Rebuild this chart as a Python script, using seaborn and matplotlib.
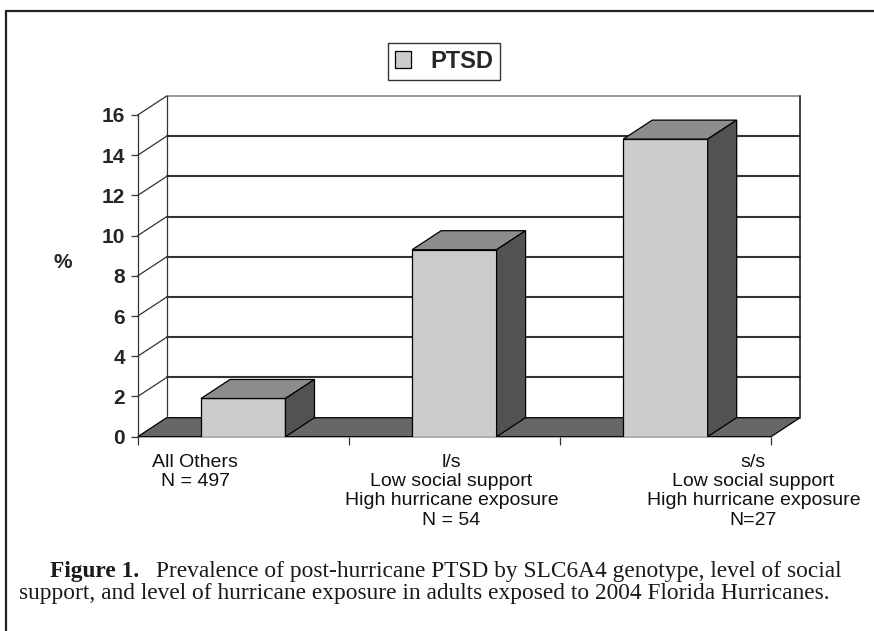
import pandas as pd
import seaborn as sns
import matplotlib.pyplot as plt
from matplotlib.patches import Polygon, Patch
from matplotlib.lines import Line2D

groups = ['All Others', 'l/s', 's/s']
group_text = ['All Others\nN = 497',
              'l/s\nLow social support\nHigh hurricane exposure\nN = 54',
              's/s\nLow social support\nHigh hurricane exposure\nN=27']
ptsd = [1.9, 9.3, 14.8]
yticks = [0, 2, 4, 6, 8, 10, 12, 14, 16]
series_name = 'PTSD'
caption_head = 'Figure 1.'
caption_1 = 'Prevalence of post-hurricane PTSD by SLC6A4 genotype, level of social'
caption_2 = 'support, and level of hurricane exposure in adults exposed to 2004 Florida Hurricanes.'

df = pd.DataFrame({'group': groups, 'ptsd': ptsd})

sns.set_style('white')
plt.rcParams['font.family'] = ['Liberation Sans', 'DejaVu Sans']

W, H = 874, 631
fig = plt.figure(figsize=(W / 100, H / 100), dpi=100)
# front plane of the pseudo 3d box
ax = fig.add_axes([137.7 / W, 1 - 436.7 / H, (771 - 137.7) / W, (436.7 - 115) / H])

face = '#cccccc'
top_c = '#8c8c8c'
side_c = '#525252'
floor_c = '#676767'

sns.barplot(data=df, x='group', y='ptsd', color=face, edgecolor='black',
            linewidth=0.9, width=0.4, saturation=1, ax=ax)
ax.set_xlim(-0.5, 2.5)
ax.set_ylim(0, 16)

# depth offset (data units)
ddx = 29 / 211.0
ddy = 19 / 20.1

x0, x1 = ax.get_xlim()
# floor
ax.add_patch(Polygon([(x0, 0), (x1, 0), (x1 + ddx, ddy), (x0 + ddx, ddy)],
                     closed=True, facecolor=floor_c, edgecolor='black', lw=0.9,
                     zorder=0.5, clip_on=False))
# back wall and left wall grid
for v in yticks[1:]:
    col = '#9a9a9a' if v == yticks[-1] else '#333333'
    ax.plot([x0 + ddx, x1 + ddx], [v + ddy, v + ddy], color=col, lw=1.5,
            zorder=0.6, clip_on=False)
    ax.plot([x0, x0 + ddx], [v, v + ddy], color='#333333', lw=0.9,
            zorder=0.6, clip_on=False)
ax.plot([x0 + ddx, x0 + ddx], [ddy, yticks[-1] + ddy], color='#333333', lw=0.9,
        zorder=0.6, clip_on=False)
ax.plot([x1 + ddx, x1 + ddx], [ddy, yticks[-1] + ddy], color='#222222', lw=1.2,
        zorder=0.6, clip_on=False)

# 3d faces of each bar
for p in ax.patches[:len(groups)]:
    bx0 = p.get_x()
    bx1 = bx0 + p.get_width()
    h = p.get_height()
    p.set_zorder(3)
    ax.add_patch(Polygon([(bx0, h), (bx0 + ddx, h + ddy), (bx1 + ddx, h + ddy), (bx1, h)],
                         closed=True, facecolor=top_c, edgecolor='black', lw=0.9,
                         zorder=3, clip_on=False))
    ax.add_patch(Polygon([(bx1, 0), (bx1, h), (bx1 + ddx, h + ddy), (bx1 + ddx, ddy)],
                         closed=True, facecolor=side_c, edgecolor='black', lw=0.9,
                         zorder=3, clip_on=False))

sns.despine(ax=ax, top=True, right=True, bottom=True, left=False)
ax.spines['left'].set_color('#333333')
ax.spines['left'].set_linewidth(0.9)
ax.set_yticks(yticks)
ax.set_yticklabels([str(v) for v in yticks], fontsize=15, fontweight='bold')
ax.tick_params(axis='y', direction='out', length=5, width=0.9, color='#333333', pad=4, left=True)
ax.set_xticks([-0.5, 0.5, 1.5, 2.5])
ax.set_xticklabels([])
ax.tick_params(axis='x', direction='out', length=6, width=0.9, color='#333333', bottom=True)
ax.set_xlabel('')
ax.set_ylabel('%', fontsize=15, fontweight='bold', rotation=0, va='center', ha='center')
ax.yaxis.set_label_coords((63 - 137.7) / 633.3, (436.7 - 263) / (436.7 - 115))

# category labels (shifted as in the original)
label_shift = [-48, -3, 88]
for i, txt in enumerate(group_text):
    ax.annotate(txt, xy=(i, 0), xycoords='data', xytext=(label_shift[i], -17),
                textcoords='offset pixels', ha='center', va='top', fontsize=14,
                multialignment='center', linespacing=1.18, annotation_clip=False,
                color='#111111')

# legend
leg = fig.legend([Patch(facecolor=face, edgecolor='black', lw=0.9)], [series_name],
                 loc='center', bbox_to_anchor=(444 / W, 1 - 61.5 / H),
                 frameon=True, fancybox=False, edgecolor='black',
                 prop={'weight': 'bold', 'size': 17}, handlelength=0.7,
                 handleheight=0.7, handletextpad=0.8, borderpad=0.3)
leg.get_frame().set_linewidth(1.0)

# outer frame
fig.add_artist(Line2D([5.5 / W, 5.5 / W], [1 - 11 / H, -0.05], color='#222222', lw=1.6))
fig.add_artist(Line2D([5.5 / W, 1.05], [1 - 11 / H, 1 - 11 / H], color='#222222', lw=1.6))

# caption
serif = ['Liberation Serif', 'DejaVu Serif']
fig.text(50 / W, 1 - 571 / H, caption_head, family=serif, fontweight='bold',
         fontsize=16.8, ha='left', va='center', color='#1a1a1a')
fig.text(842 / W, 1 - 571 / H, caption_1, family=serif, fontsize=16.8,
         ha='right', va='center', color='#1a1a1a')
fig.text(424 / W, 1 - 593 / H, caption_2, family=serif, fontsize=16.8,
         ha='center', va='center', color='#1a1a1a')

fig.savefig('out.png', dpi=100)
